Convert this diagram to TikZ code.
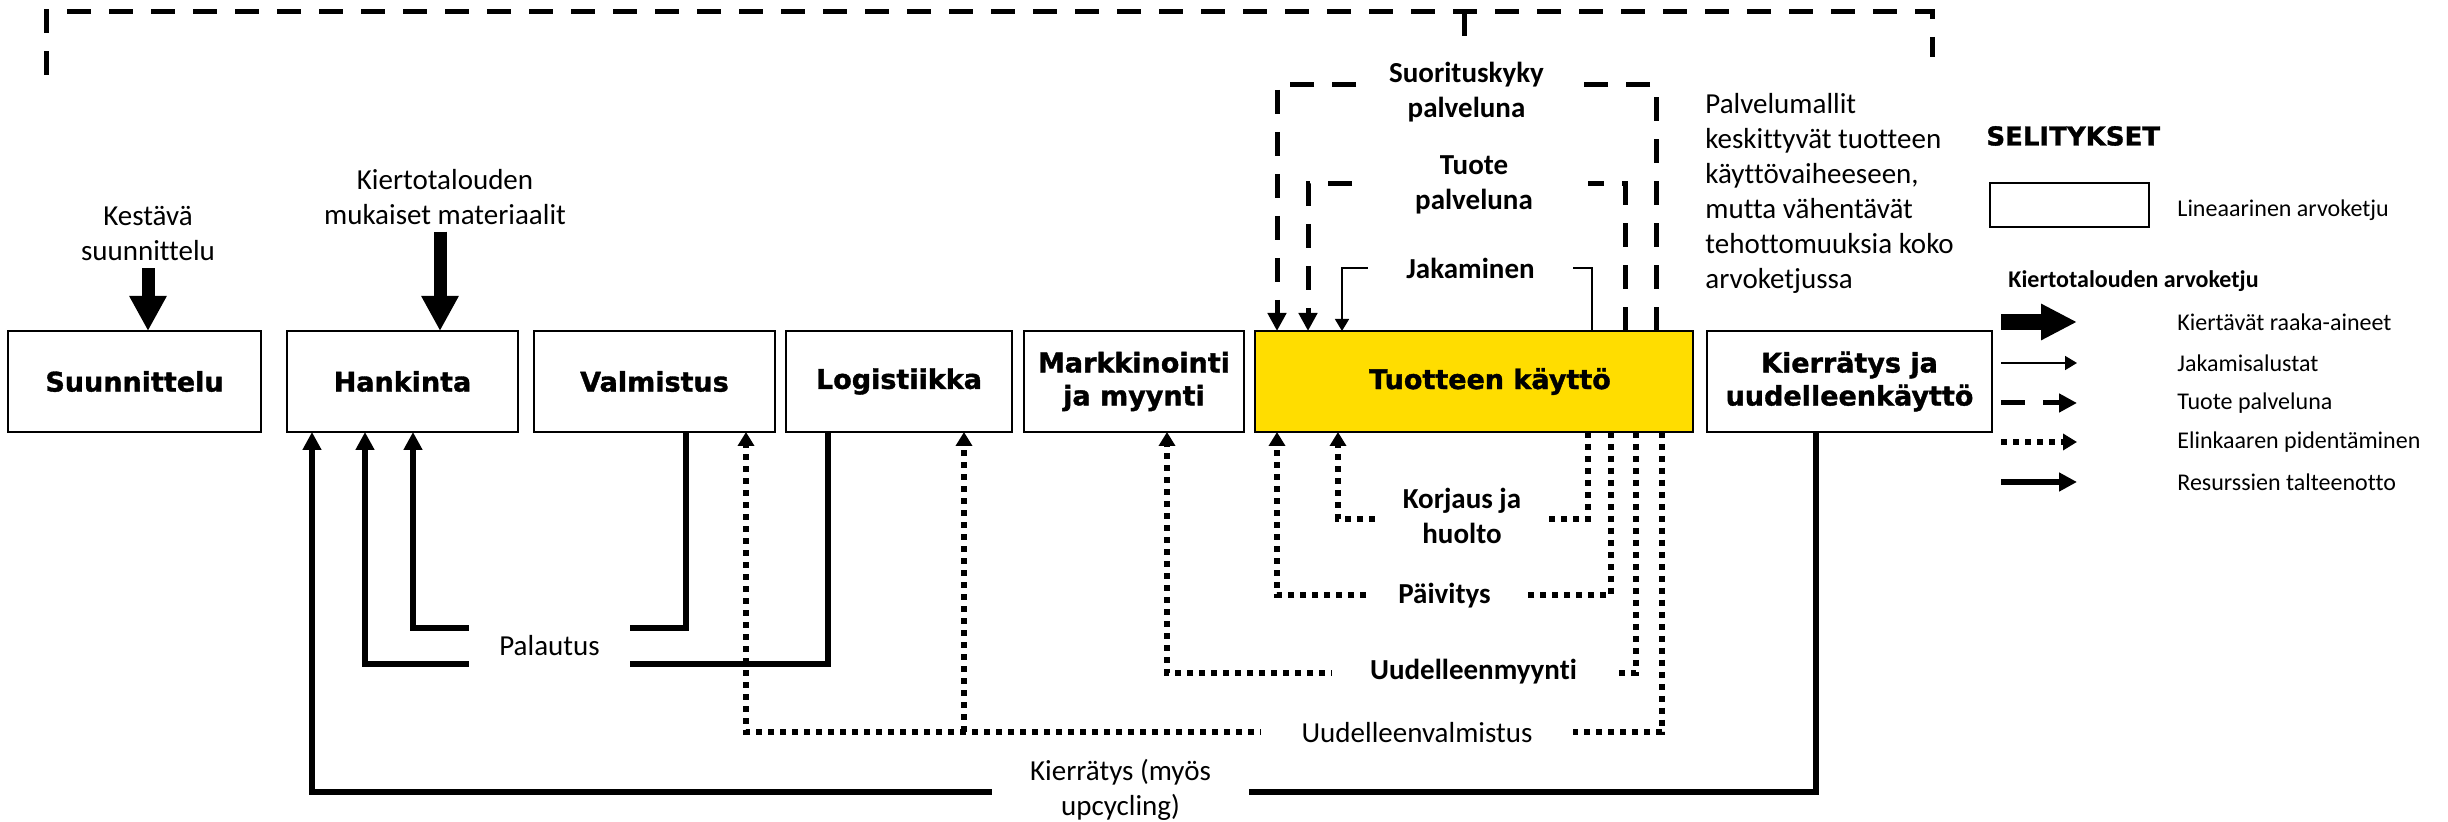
\documentclass[tikz,border=0pt]{standalone}
\usepackage{fontspec}
\setmainfont{Carlito}[Ligatures=NoCommon]
\newfontfamily\raskas{DejaVu Sans}[BoldFeatures={FakeBold=1.3}]
\usetikzlibrary{arrows.meta}
\definecolor{kayttokeltainen}{HTML}{FFDD00}

\tikzset{
  vaihe/.style={draw, line width=1.3pt, minimum height=50.5pt, inner sep=0pt, outer sep=0pt,
    align=center, font=\raskas\bfseries\fontsize{13.5}{16.5}\selectfont},
  teksti/.style={align=center, font=\fontsize{14.5}{17.5}\selectfont},
  aukko/.style={teksti, fill=white, inner sep=0pt},
  aukkolihava/.style={aukko, font=\bfseries\fontsize{14.5}{17.5}\selectfont},
  selite/.style={anchor=west, inner sep=0pt, font=\fontsize{12}{14}\selectfont},
  raaka/.style={line width=6.5pt, -{Triangle[length=17.5pt,width=17.5pt]}},
  raakaselite/.style={line width=8pt, -{Triangle[length=18pt,width=17pt]}},
  jako/.style={line width=0.8pt, -{Triangle[length=6pt,width=7pt]}},
  palveluviiva/.style={line width=2.5pt, dash pattern=on 12pt off 9pt},
  palvelu/.style={palveluviiva, -{Triangle[length=9pt,width=9pt]}},
  pidennys/.style={line width=3pt, dash pattern=on 3pt off 3pt, -{Triangle[length=7pt,width=8pt]}},
  talteen/.style={line width=2.8pt, -{Triangle[length=9pt,width=9pt]}}
}

\begin{document}
\begin{tikzpicture}[x=0.5pt,y=-0.5pt]
\useasboundingbox (0,0) rectangle (2448,822);

% arvoketjun vaiheet
\node[vaihe, minimum width=126.5pt] (suun) at (134.5,381.5) {Suunnittelu};
\node[vaihe, minimum width=115.5pt] (hank) at (402.5,381.5) {Hankinta};
\node[vaihe, minimum width=120.5pt] (valm) at (654.5,381.5) {Valmistus};
\node[vaihe, minimum width=113pt] (logi) at (899,381.5) {Logistiikka};
\node[vaihe, minimum width=110pt] (mark) at (1134,381.5) {Markkinointi\\ja myynti};
\node[vaihe, minimum width=219pt, fill=kayttokeltainen] (kaytto) at (1474,381.5) {\hspace*{16pt}Tuotteen käyttö};
\node[vaihe, minimum width=142.5pt] (kierr) at (1849.5,381.5) {Kierrätys ja\\uudelleenkäyttö};

% syotteet ylhaalta
\node[teksti] (kestava) at (148,234) {Kestävä\\suunnittelu};
\node[teksti] (materiaalit) at (445,197) {Kiertotalouden\\mukaiset materiaalit};
\draw[raaka] (kestava.south) -- (kestava.south |- suun.north);
\draw[raaka] (440,0 |- materiaalit.south) -- (440,0 |- hank.north);

% ylin katkoviiva
\coordinate (ylavasen) at (46,75);
\coordinate (ylaoikea) at (1932,57);
\coordinate (ylahaara) at (1464,12);
\draw[palveluviiva] (ylavasen) |- (ylaoikea |- ylahaara) -- (ylaoikea);
\draw[palveluviiva] (ylahaara) -- (1464,45);

% tuote palveluna
\draw[palvelu] (1656,0 |- kaytto.north) |- (1277,85) -- (1277,0 |- kaytto.north);
\draw[palvelu] (1625,0 |- kaytto.north) |- (1308,184) -- (1308,0 |- kaytto.north);
\draw[jako] (1592,0 |- kaytto.north) |- (1342,268) -- (1342,0 |- kaytto.north);

% elinkaaren pidentaminen
\draw[pidennys] (1588,0 |- kaytto.south) |- (1338,519) -- (1338,0 |- kaytto.south);
\draw[pidennys] (1611,0 |- kaytto.south) |- (1277,595) -- (1277,0 |- kaytto.south);
\draw[pidennys] (1636,0 |- kaytto.south) |- (1167,673) -- (1167,0 |- mark.south);
\draw[pidennys] (1662,0 |- kaytto.south) |- (746,732) -- (746,0 |- valm.south);
\coordinate (haara) at (964,732);
\draw[pidennys] (haara) -- (964,0 |- logi.south);

% resurssien talteenotto
\draw[talteen] (686,0 |- valm.south) |- (413,628) -- (413,0 |- hank.south);
\draw[talteen] (828,0 |- logi.south) |- (365,664) -- (365,0 |- hank.south);
\draw[talteen] (1816,0 |- kierr.south) |- (312,792) -- (312,0 |- hank.south);

% nuolten tekstit
\node[aukko, minimum width=80.5pt, minimum height=24pt] (palautus) at (549.5,646) {Palautus};
\node[aukko, minimum width=128.5pt] (kierratys) at (1120.5,790) {Kierrätys (myös\\upcycling)};
\node[aukko, minimum width=156pt] (uvalm) at (1417,733) {Uudelleenvalmistus};
\node[aukkolihava, minimum width=141.5pt] (umyynti) at (1473.5,672) {Uudelleenmyynti};
\node[aukkolihava, minimum width=77.5pt] (paivitys) at (1444.5,596) {Päivitys};
\node[aukkolihava, minimum width=85pt] (korjaus) at (1462,516) {Korjaus ja\\huolto};
\node[aukkolihava, minimum width=102.5pt] (jakaminen) at (1470.5,268) {Jakaminen};
\node[aukkolihava, minimum width=114pt] (tuotepalv) at (1474,185) {Tuote\\palveluna};
\node[aukkolihava, minimum width=106.5pt] (suorituskyky) at (1466.5,92) {Suorituskyky\\palveluna};

\node[teksti, align=left, anchor=west, inner sep=0pt] (palvelumallit) at (1705,193)
  {Palvelumallit\\keskittyvät tuotteen\\käyttövaiheeseen,\\mutta vähentävät\\tehottomuuksia koko\\arvoketjussa};

% selitykset
\node[anchor=west, inner sep=0pt, font=\raskas\bfseries\fontsize{13}{15}\selectfont] (selitykset) at (1986,136) {SELITYKSET};
\node[draw, line width=1.3pt, minimum width=79.5pt, minimum height=22pt, inner sep=0pt] (selbox) at (2069.5,205) {};
\node[selite] (lineaarinen) at (2177,210) {Lineaarinen arvoketju};
\node[selite, font=\bfseries\fontsize{12}{14}\selectfont] (kiertoselite) at (2008,281) {Kiertotalouden arvoketju};
\foreach \tyyli/\yy/\teksti [count=\i] in {raakaselite/322/Kiertävät raaka-aineet, jako/363/Jakamisalustat,
    palvelu/403/Tuote palveluna, pidennys/442/Elinkaaren pidentäminen, talteen/482/Resurssien talteenotto} {
  \coordinate (nuoli\i) at (2001,\yy);
  \node[selite] (selite\i) at (2177,\yy) {\teksti};
  \draw[\tyyli] (nuoli\i) -- ++(76,0);
}
\end{tikzpicture}
\end{document}
